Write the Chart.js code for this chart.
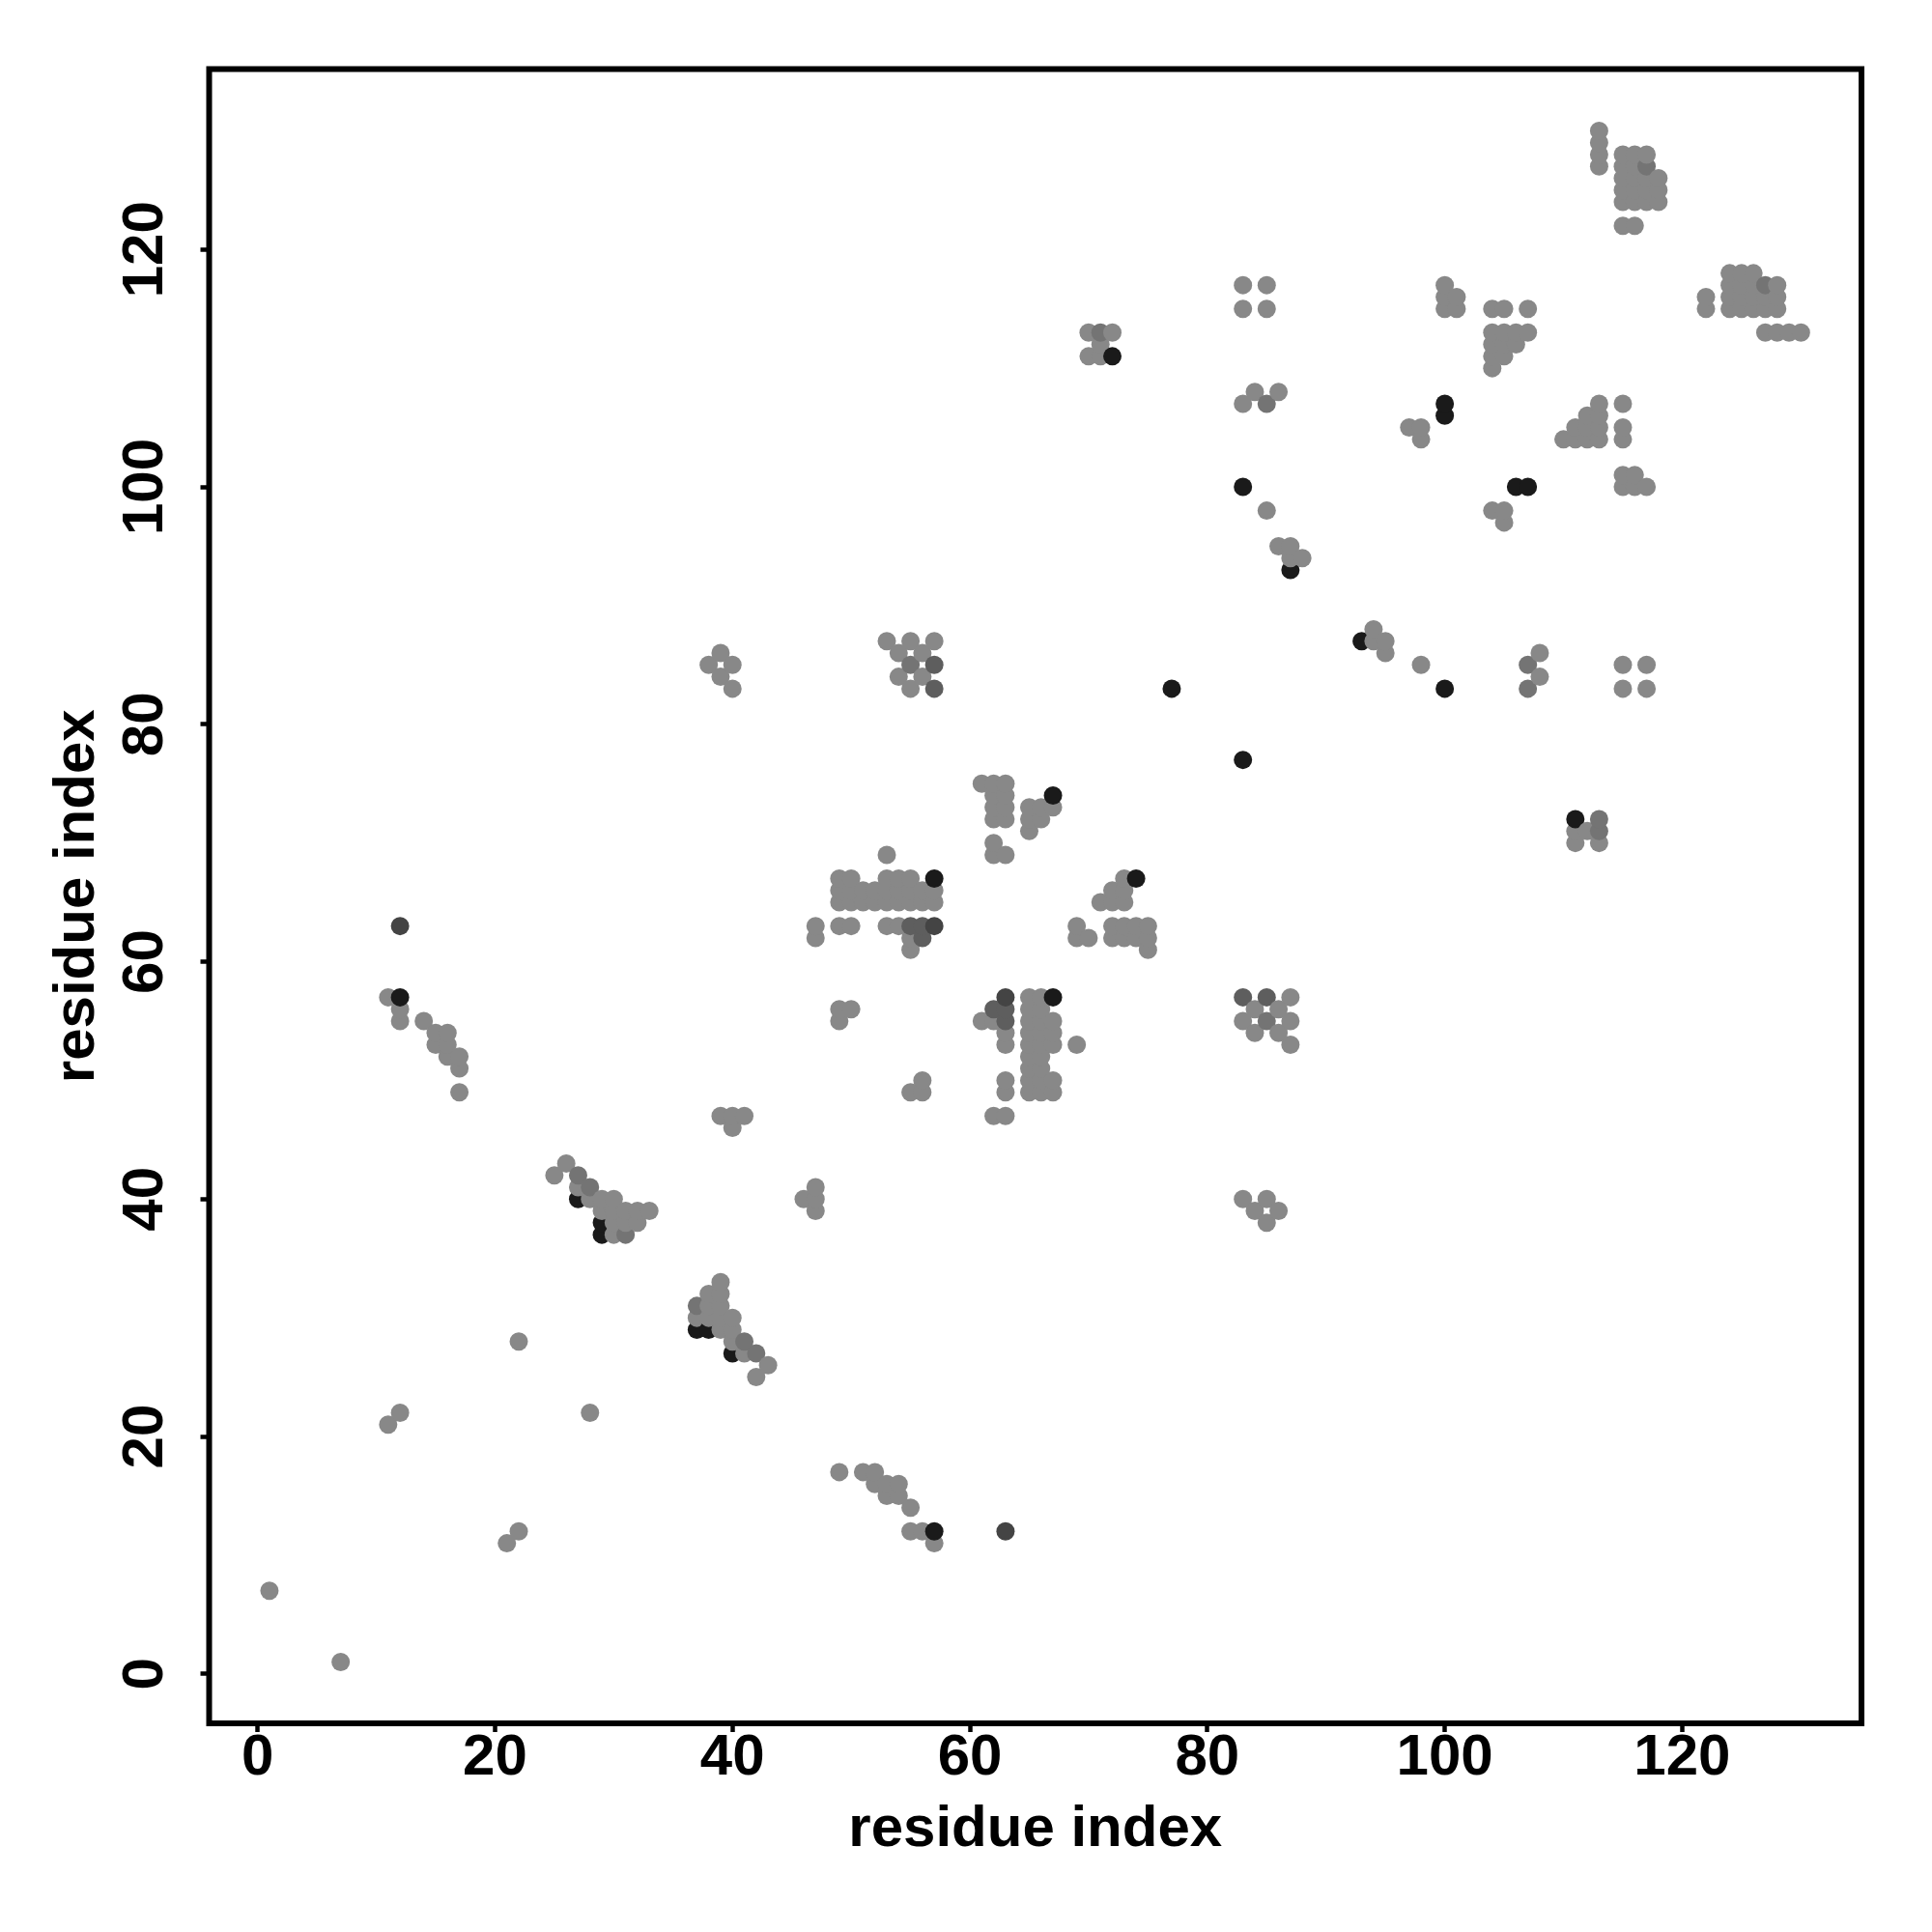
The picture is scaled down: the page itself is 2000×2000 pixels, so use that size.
<!DOCTYPE html>
<html>
<head>
<meta charset="utf-8">
<title>Residue contact map</title>
<script src="https://cdn.jsdelivr.net/npm/chart.js@4"></script>
<style>html,body{margin:0;padding:0;background:#fff}canvas{display:block}</style>
</head>
<body>
<canvas id="c" width="2000" height="2000"></canvas>
<script>
const axisTicks = [0, 20, 40, 60, 80, 100, 120];
const xTitle = "residue index";
const yTitle = "residue index";

const residueX = [
1,
7,
11,11,
12,12,12,12,12,
14,
15,15,
16,16,16,
17,17,17,
21,
22,22,
25,
26,
27,27,27,
28,28,28,
29,29,29,29,
30,30,30,30,
31,31,31,
32,32,
33,
37,37,37,
38,38,38,38,38,
39,39,39,39,39,39,39,39,
40,40,40,40,40,40,40,40,
41,41,41,
42,42,
43,
46,
47,47,47,47,47,
49,49,49,49,49,49,49,
50,50,50,50,50,
51,51,51,
52,52,52,52,
53,53,53,53,53,53,53,53,
54,54,54,54,54,54,54,54,
55,55,55,55,55,55,55,55,55,55,55,55,
56,56,56,56,56,56,56,56,56,
57,57,57,57,57,57,57,57,57,
61,61,
62,62,62,62,62,62,62,62,62,
63,63,63,63,63,63,63,63,63,63,63,63,63,63,
65,65,65,65,65,65,65,65,65,65,65,65,
66,66,66,66,66,66,66,66,66,66,66,
67,67,67,67,67,67,67,67,
69,69,69,
70,70,70,
71,71,71,71,
72,72,72,72,72,72,
73,73,73,73,73,
74,74,74,
75,75,75,
77,
83,83,83,83,83,83,83,83,
84,84,84,84,
85,85,85,85,85,85,85,85,
86,86,86,86,86,
87,87,87,87,87,87,
88,
93,
94,94,
95,95,
97,
98,98,98,
100,100,100,100,100,100,
101,101,
104,104,104,104,104,104,
105,105,105,105,105,105,
106,106,106,
107,107,107,107,107,
108,108,
110,
111,111,111,111,111,
112,112,112,112,
113,113,113,113,113,113,113,113,113,113,113,
115,115,115,115,115,115,115,115,115,115,115,115,115,
116,116,116,116,116,116,116,116,
117,117,117,117,117,117,117,117,
118,118,118,
122,122,
124,124,124,124,
125,125,125,125,
126,126,126,126,
127,127,127,127,
128,128,128,128,
129,
130
];

const residueY = [
7,
1,
21,57,
22,55,56,57,63,
55,
53,54,
52,53,54,
49,51,52,
11,
12,28,
42,
43,
40,41,42,
22,40,41,
37,38,39,40,
37,38,39,40,
37,38,39,
38,39,
39,
29,30,31,
29,30,31,32,85,
29,30,31,32,33,47,84,86,
27,28,29,30,46,47,83,85,
27,28,47,
25,27,
26,
40,
39,40,41,62,63,
17,55,56,63,65,66,67,
56,63,65,66,67,
17,65,66,
16,17,65,66,
15,16,63,65,66,67,69,87,
15,16,63,65,66,67,84,86,
12,14,49,61,62,63,65,66,67,83,85,87,
12,49,50,62,63,65,66,84,86,
11,12,63,65,66,67,83,85,87,
55,75,
47,55,56,69,70,72,73,74,75,
12,47,49,50,53,54,55,56,57,69,72,73,74,75,
49,50,51,52,53,54,55,56,57,71,72,73,
49,50,51,52,53,54,55,56,57,72,73,
49,50,53,54,55,57,73,74,
53,62,63,
62,111,113,
65,111,112,113,
62,63,65,66,111,113,
62,63,65,66,67,
62,63,67,
61,62,63,
83,
40,55,57,77,100,107,115,117,
39,54,56,108,
38,40,55,57,98,107,115,117,
39,54,56,95,108,
53,55,57,93,94,95,
94,
87,
87,88,
86,87,
105,
85,104,105,
83,106,107,115,116,117,
115,116,
98,110,111,112,113,115,
97,98,111,112,113,115,
100,112,113,
83,85,100,113,115,
84,86,
104,
70,71,72,104,105,
71,104,105,106,
70,71,72,104,105,106,107,127,128,129,130,
83,85,100,101,104,105,107,122,124,125,126,127,128,
100,101,122,124,125,126,127,128,
83,85,100,124,125,126,127,128,
124,125,126,
115,116,
115,116,117,118,
115,116,117,118,
115,116,117,118,
113,115,116,117,
113,115,116,117,
113,
113
];

// contact strength class read from the grey of each dot, same order as residueX / residueY
const contactClass = [
0,
0,
0,0,
0,0,0,4,3,
0,
0,0,
0,0,0,
0,0,0,
0,
0,0,
0,
0,
4,0,1,
0,0,1,
4,4,0,0,
0,0,0,0,
1,0,0,
0,0,
0,
4,0,1,
4,0,0,0,0,
0,0,0,0,0,0,0,0,
4,0,0,0,0,0,0,0,
0,1,0,
0,1,
0,
0,
0,0,0,0,0,
0,0,0,0,0,0,0,
0,0,0,0,0,
0,0,0,
0,0,0,0,
0,0,0,0,0,0,0,0,
0,0,0,0,0,0,0,0,
0,0,0,0,0,2,0,0,0,0,1,0,
0,0,0,2,2,0,0,0,0,
0,4,3,0,0,4,2,2,0,
0,0,
0,0,2,0,0,0,0,0,0,
3,0,0,0,0,0,2,2,3,0,0,0,0,0,
0,0,0,0,0,0,0,0,0,0,0,0,
0,0,0,0,0,0,0,0,0,0,0,
0,0,0,0,0,4,0,4,
0,0,0,
0,0,0,
0,0,0,1,
0,0,0,0,4,0,
0,0,0,0,0,
0,0,4,
0,0,0,
4,
0,0,2,4,4,0,0,0,
0,0,0,0,
0,0,1,2,0,1,0,0,
0,0,0,0,0,
0,0,0,4,0,0,
0,
4,
0,0,
0,0,
0,
0,0,0,
4,4,4,0,0,0,
0,0,
0,0,0,0,0,0,
0,0,0,0,0,0,
4,0,0,
1,1,4,0,0,
0,0,
0,
0,0,4,0,0,
0,0,0,0,
0,1,1,0,0,0,0,0,0,0,0,
0,0,0,0,0,0,0,0,0,0,0,0,0,
0,0,0,0,0,0,0,0,
0,0,0,0,0,0,1,0,
0,0,0,
0,0,
0,0,0,0,
0,0,0,0,
0,0,0,0,
0,0,0,1,
0,0,0,0,
0,
0
];

const classGrey = ["#888888", "#747474", "#5e5e5e", "#444444", "#1a1a1a"];

if (residueX.length !== residueY.length || residueX.length !== contactClass.length) {
  console.error("length mismatch", residueX.length, residueY.length, contactClass.length);
}

const frame = {
  id: "frame",
  afterDatasetsDraw(chart) {
    const a = chart.chartArea, c = chart.ctx;
    c.save();
    c.strokeStyle = "#000";
    c.lineWidth = 6;
    c.lineJoin = "miter";
    c.strokeRect(a.left, a.top, a.right - a.left, a.bottom - a.top);
    c.restore();
  }
};

const FONT = "'Liberation Sans', Arial, Helvetica, sans-serif";

new Chart(document.getElementById("c"), {
  type: "scatter",
  data: {
    datasets: [{
      data: residueX.map((x, i) => ({ x, y: residueY[i] })),
      backgroundColor: contactClass.map(k => classGrey[k]),
      borderWidth: 0,
      pointRadius: 9.5,
      pointHoverRadius: 9.5
    }]
  },
  options: {
    responsive: false,
    animation: false,
    devicePixelRatio: 1,
    events: [],
    layout: { padding: { top: 71.5, right: 73, left: 0, bottom: 0 } },
    plugins: { legend: { display: false }, tooltip: { enabled: false }, title: { display: false } },
    scales: {
      x: {
        type: "linear",
        min: -4.08,
        max: 135.1,
        afterBuildTicks(s) { s.ticks = axisTicks.map(v => ({ value: v })); },
        afterFit(s) { s.height = 216; },
        border: { display: false },
        grid: { drawOnChartArea: false, drawTicks: true, tickLength: 9, tickWidth: 4.5, tickColor: "#000" },
        ticks: { autoSkip: false, maxRotation: 0, padding: -9, color: "#000", font: { family: FONT, weight: "bold", size: 60 } },
        title: { display: true, text: xTitle, color: "#000", padding: { top: 0, bottom: 69.5 }, font: { family: FONT, weight: "bold", size: 60 } }
      },
      y: {
        type: "linear",
        min: -4.17,
        max: 135.2,
        afterBuildTicks(s) { s.ticks = axisTicks.map(v => ({ value: v })); },
        afterFit(s) { s.width = 216.5; },
        border: { display: false },
        grid: { drawOnChartArea: false, drawTicks: true, tickLength: 9, tickWidth: 4.5, tickColor: "#000" },
        ticks: { autoSkip: false, minRotation: 90, maxRotation: 90, crossAlign: "center", padding: 6, color: "#000", font: { family: FONT, weight: "bold", size: 60 } },
        title: { display: true, text: yTitle, color: "#000", padding: { top: 44, bottom: 44 }, font: { family: FONT, weight: "bold", size: 60 } }
      }
    }
  },
  plugins: [frame]
});
</script>
</body>
</html>
